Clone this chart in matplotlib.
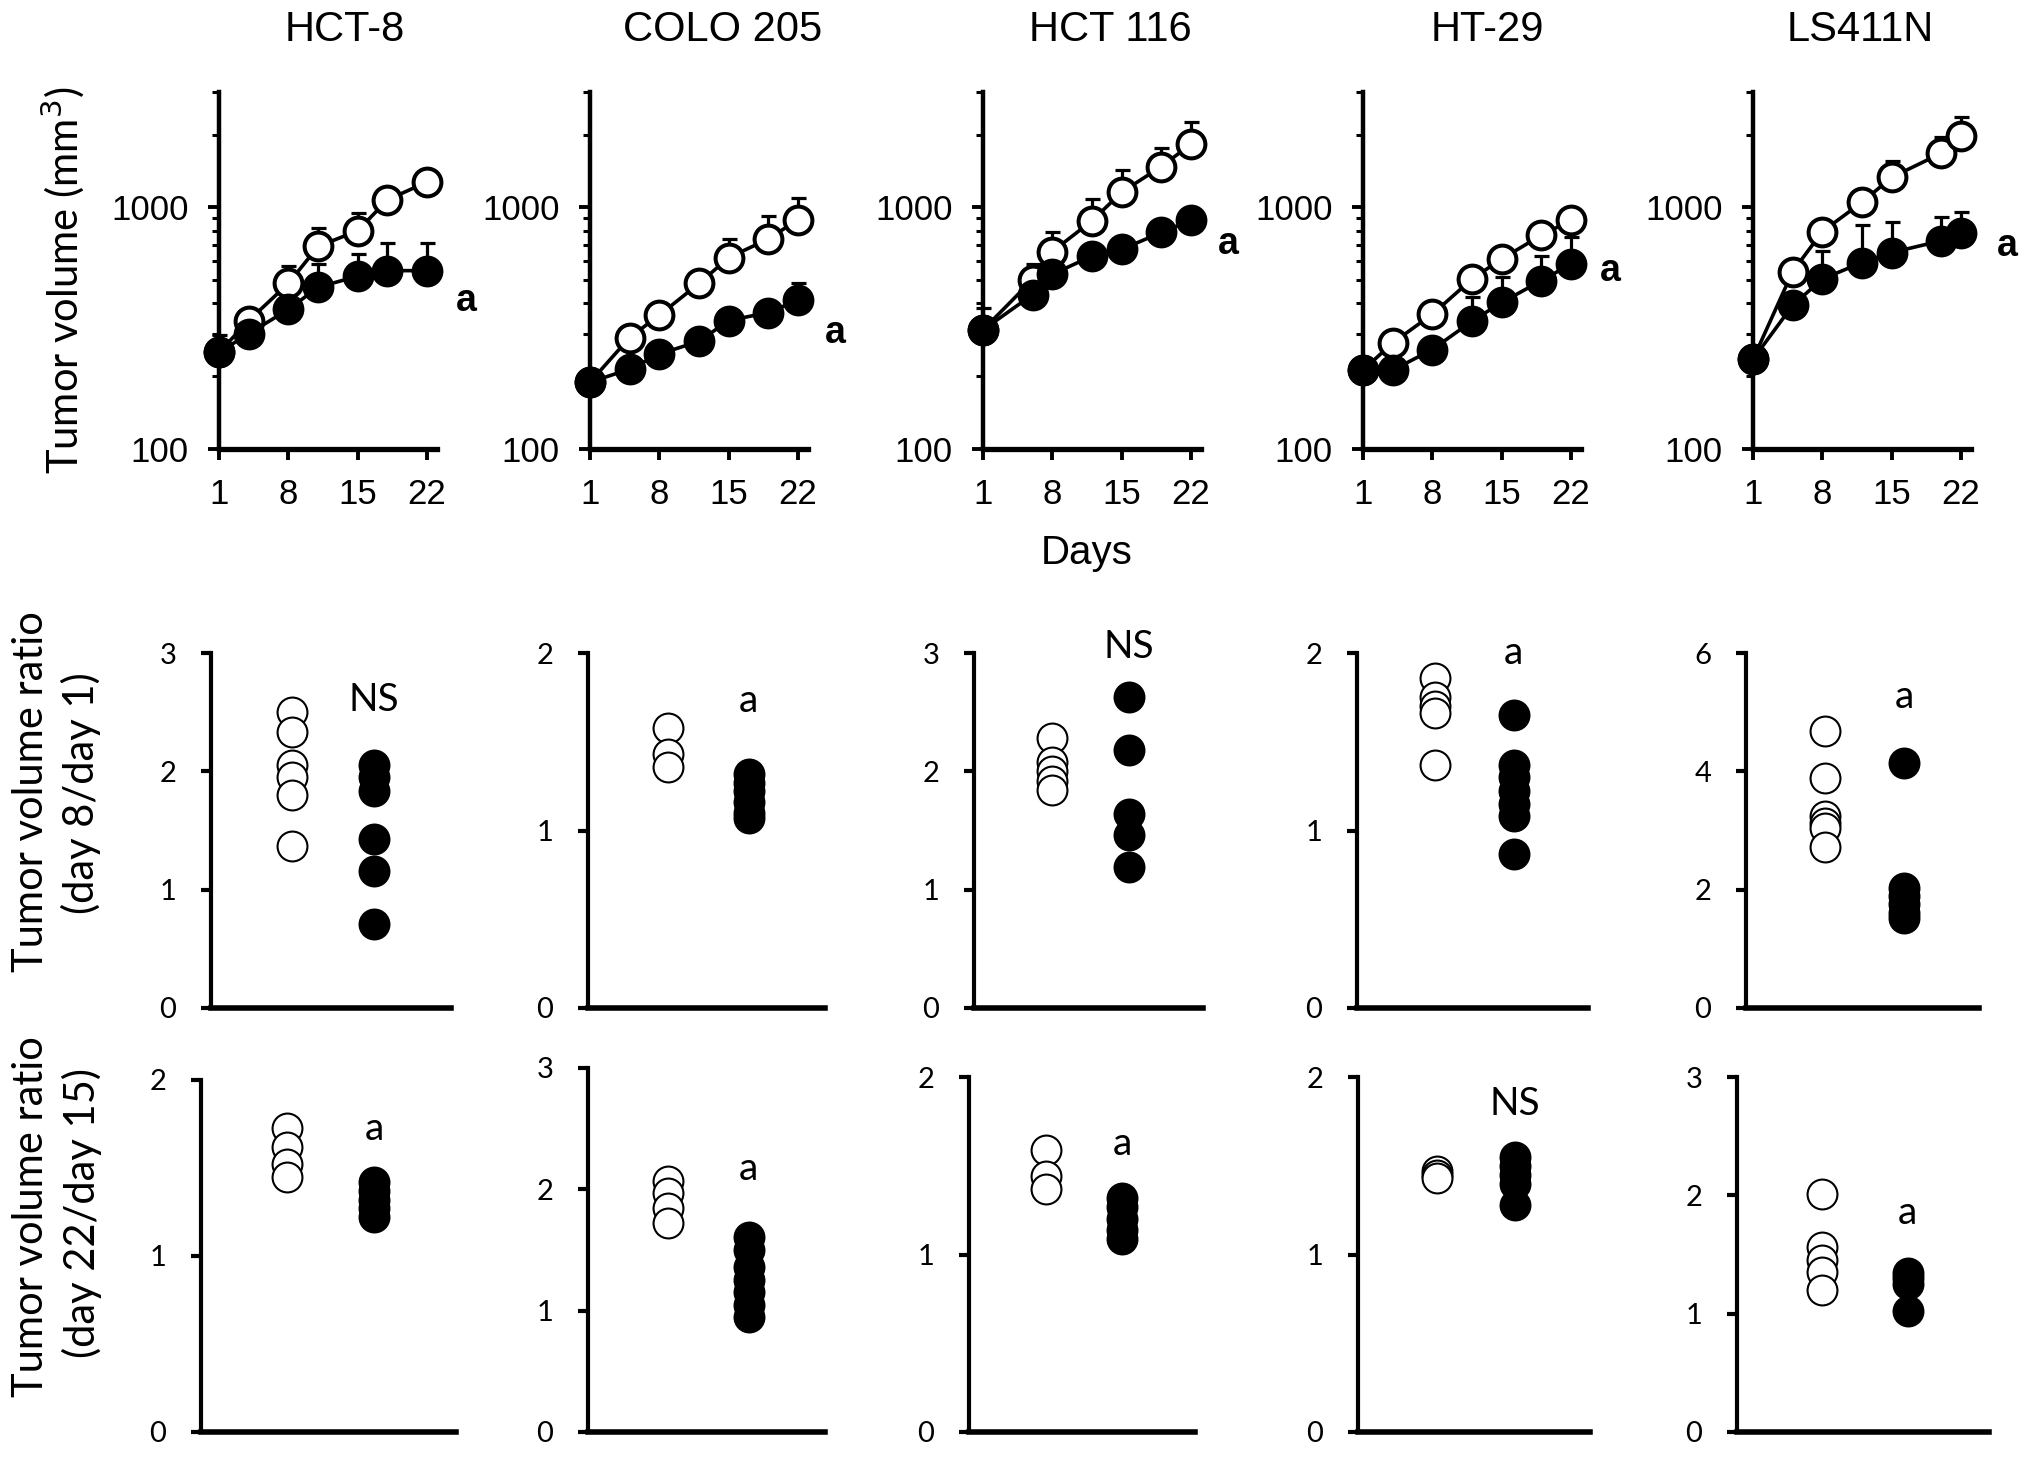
import numpy as np
import matplotlib
matplotlib.use("Agg")
import matplotlib.pyplot as plt
from matplotlib.ticker import FixedLocator, NullFormatter

# ---- data ----
cell_lines = ["HCT-8", "COLO 205", "HCT 116", "HT-29", "LS411N"]

# growth curves (mean tumor volume, mm3) with upper error bars
days = [
    [1, 4, 8, 11, 15, 18, 22],
    [1, 5, 8, 12, 15, 19, 22],
    [1, 6, 8, 12, 15, 19, 22],
    [1, 4, 8, 12, 15, 19, 22],
    [1, 5, 8, 12, 15, 20, 22],
]
ctrl_vol = [
    [251, 340, 484, 689, 800, 1074, 1273],
    [189, 289, 358, 484, 619, 740, 889],
    [311, 502, 656, 880, 1155, 1475, 1824],
    [212, 275, 361, 505, 612, 766, 885],
    [235, 542, 794, 1049, 1331, 1674, 1965],
]
ctrl_err = [
    [45, 30, 90, 130, 145, 60, 70],
    [10, 20, 30, 40, 120, 180, 200],
    [74, 83, 131, 203, 267, 291, 435],
    [10, 15, 20, 30, 40, 50, 60],
    [20, 40, 60, 80, 229, 289, 396],
]
trt_vol = [
    [251, 300, 378, 467, 519, 547, 547],
    [189, 214, 247, 279, 340, 367, 413],
    [311, 435, 528, 629, 670, 787, 885],
    [212, 212, 258, 338, 404, 497, 583],
    [235, 393, 505, 591, 650, 727, 780],
]
trt_err = [
    [20, 20, 30, 115, 124, 167, 167],
    [10, 15, 23, 25, 30, 38, 75],
    [20, 30, 30, 40, 40, 50, 60],
    [10, 15, 25, 89, 109, 133, 169],
    [20, 40, 155, 254, 223, 183, 173],
]

# tumor volume ratio, day 8 / day 1
ratio_d8_ctrl = [
    [2.50, 2.33, 2.05, 1.95, 1.80, 1.37],
    [1.58, 1.43, 1.36],
    [2.28, 2.08, 2.00, 1.92, 1.84],
    [1.86, 1.75, 1.70, 1.66, 1.37],
    [4.68, 3.88, 3.25, 3.12, 3.05, 2.72],
]
ratio_d8_trt = [
    [2.05, 1.95, 1.83, 1.43, 1.16, 0.71],
    [1.32, 1.27, 1.22, 1.16, 1.10, 1.07],
    [2.63, 2.18, 1.64, 1.46, 1.19],
    [1.65, 1.37, 1.30, 1.22, 1.15, 1.08, 0.87],
    [4.14, 2.03, 1.90, 1.75, 1.60, 1.52],
]
ymax_d8 = [3, 2, 3, 2, 6]
ystep_d8 = [1, 1, 1, 1, 2]
sig_d8 = ["NS", "a", "NS", "a", "a"]

# tumor volume ratio, day 22 / day 15
ratio_d22_ctrl = [
    [1.73, 1.62, 1.52, 1.45],
    [2.07, 1.97, 1.85, 1.72],
    [1.59, 1.44, 1.37],
    [1.47, 1.45, 1.43],
    [2.01, 1.56, 1.45, 1.35, 1.20],
]
ratio_d22_trt = [
    [1.42, 1.37, 1.32, 1.27, 1.22],
    [1.61, 1.50, 1.36, 1.25, 1.15, 1.05, 0.95],
    [1.32, 1.27, 1.20, 1.14, 1.09],
    [1.55, 1.50, 1.45, 1.40, 1.28],
    [1.34, 1.30, 1.25, 1.02],
]
ymax_d22 = [2, 3, 2, 2, 3]
ystep_d22 = [1, 1, 1, 1, 1]
sig_d22 = ["a", "a", "a", "NS", "a"]

# ---- layout (pixels of the 2031x1457 canvas) ----
W, H = 2031, 1457
row1_left = [219, 590, 983, 1363, 1753]
row1_w, row1_top, row1_bot = 218, 92, 449
row2_left = [211, 588, 974, 1357, 1746]
row2_w = [240, 237, 229, 231, 233]
row2_top, row2_bot = 653, 1008
row3_left = [201, 588, 969, 1358, 1737]
row3_w = [255, 237, 226, 232, 252]
row3_top = [1080, 1068, 1077, 1077, 1077]
row3_bot = 1432
title_x = [345, 723, 1110, 1487, 1860]
a_offset = [(28, -22), (27, -24), (27, -17), (28, -5), (33, -9)]
sig_y_d8 = [2.6, 1.73, 3.05, 2.0, 5.26]
sig_y_d22 = [1.72, 2.17, 1.62, 1.85, 1.85]

ARIAL = ["Liberation Sans", "DejaVu Sans"]
CALIB = ["Lato", "Liberation Sans", "DejaVu Sans"]


def box(left, top, width, bottom):
    return [left / W, 1 - bottom / H, width / W, (bottom - top) / H]


fig = plt.figure(figsize=(W / 100, H / 100), dpi=100)
fig.patch.set_facecolor("white")

# ---- row 1: growth curves ----
for i, name in enumerate(cell_lines):
    ax = fig.add_axes(box(row1_left[i], row1_top, row1_w, row1_bot))
    d = days[i]
    zero = np.zeros(len(d))
    # control (open)
    ax.errorbar(d, ctrl_vol[i], yerr=[zero, ctrl_err[i]], fmt="none", ecolor="black",
                elinewidth=2.3, capsize=5.4, capthick=2.3, zorder=2, clip_on=False)
    ax.plot(d, ctrl_vol[i], "-o", color="black", lw=2.6, ms=20, mfc="white", mec="black",
            mew=2.9, zorder=3, clip_on=False)
    # treated (filled)
    ax.errorbar(d, trt_vol[i], yerr=[zero, trt_err[i]], fmt="none", ecolor="black",
                elinewidth=2.3, capsize=5.4, capthick=2.3, zorder=4, clip_on=False)
    ax.plot(d, trt_vol[i], "-o", color="black", lw=2.6, ms=20, mfc="black", mec="black",
            mew=2.9, zorder=5, clip_on=False)

    ax.set_yscale("log")
    ax.set_ylim(100, 3000)
    ax.set_xlim(1, 23)
    ax.yaxis.set_major_locator(FixedLocator([100, 1000]))
    ax.yaxis.set_minor_locator(FixedLocator([200, 300, 400, 500, 600, 700, 800, 900, 2000, 3000]))
    ax.yaxis.set_minor_formatter(NullFormatter())
    ax.set_yticklabels(["100", "1000"])
    ax.set_xticks([1, 8, 15, 22])
    ax.set_xticklabels(["1", "8", "15", "22"])
    for s in ["top", "right"]:
        ax.spines[s].set_visible(False)
    ax.spines["left"].set_linewidth(3.2)
    ax.spines["bottom"].set_linewidth(3.8)
    ax.tick_params(which="major", direction="out", length=8, width=2.8)
    ax.tick_params(which="minor", direction="out", length=5, width=2.2)
    ax.tick_params(axis="y", which="major", pad=14)
    ax.tick_params(axis="x", which="major", pad=13)
    for lab in ax.get_xticklabels() + ax.get_yticklabels():
        lab.set_fontfamily(ARIAL)
        lab.set_fontsize(25)
    ax.patch.set_alpha(0)

    ax.annotate("a", xy=(d[-1], trt_vol[i][-1]), xytext=a_offset[i], textcoords="offset points",
                ha="center", va="center", fontsize=27, fontweight="bold", family=ARIAL,
                annotation_clip=False)

    fig.text(title_x[i] / W, 1 - 30 / H, name, ha="center", va="center", fontsize=30,
             family=ARIAL)

fig.text(1087 / W, 1 - 553 / H, "Days", ha="center", va="center", fontsize=29, family=ARIAL)
fig.text(63 / W, 1 - 280 / H, "Tumor volume (mm$^3$)", rotation=90, ha="center",
         va="center", fontsize=30, family=CALIB)


def dot_panel(ax, ctrl, trt, ymax, ystep, sig, sig_y):
    ax.plot(np.ones(len(ctrl)), ctrl, "o", ms=21.5, mfc="white", mec="black", mew=1.5,
            zorder=3, clip_on=False)
    ax.plot(np.full(len(trt), 2.0), trt, "o", ms=21.5, mfc="black", mec="black", mew=1.5,
            zorder=3, clip_on=False)
    ax.set_xlim(0, 2.95)
    ax.set_ylim(0, ymax)
    ticks = np.arange(0, ymax + 0.01, ystep)
    ax.set_yticks(ticks)
    ax.set_yticklabels([str(int(v)) for v in ticks])
    ax.set_xticks([])
    for s in ["top", "right"]:
        ax.spines[s].set_visible(False)
    ax.spines["left"].set_linewidth(3.0)
    ax.spines["bottom"].set_linewidth(4.0)
    ax.tick_params(axis="y", direction="out", length=7, width=3.0, pad=18)
    for lab in ax.get_yticklabels():
        lab.set_fontfamily(CALIB)
        lab.set_fontsize(21)
    ax.patch.set_alpha(0)
    ax.text(2.0, sig_y, sig, ha="center", va="center", fontsize=28, family=CALIB,
            clip_on=False)


# ---- row 2: day 8 / day 1 ----
for i in range(5):
    ax = fig.add_axes(box(row2_left[i], row2_top, row2_w[i], row2_bot))
    dot_panel(ax, ratio_d8_ctrl[i], ratio_d8_trt[i], ymax_d8[i], ystep_d8[i], sig_d8[i],
              sig_y_d8[i])

# ---- row 3: day 22 / day 15 ----
for i in range(5):
    ax = fig.add_axes(box(row3_left[i], row3_top[i], row3_w[i], row3_bot))
    dot_panel(ax, ratio_d22_ctrl[i], ratio_d22_trt[i], ymax_d22[i], ystep_d22[i], sig_d22[i],
              sig_y_d22[i])

fig.text(31 / W, 1 - 792 / H, "Tumor volume ratio", rotation=90, ha="center", va="center",
         fontsize=30, family=CALIB)
fig.text(81 / W, 1 - 793 / H, "(day 8/day 1)", rotation=90, ha="center", va="center",
         fontsize=30, family=CALIB)
fig.text(31 / W, 1 - 1217 / H, "Tumor volume ratio", rotation=90, ha="center", va="center",
         fontsize=30, family=CALIB)
fig.text(82 / W, 1 - 1213 / H, "(day 22/day 15)", rotation=90, ha="center", va="center",
         fontsize=30, family=CALIB)

fig.savefig("out.png", dpi=100, facecolor="white")
